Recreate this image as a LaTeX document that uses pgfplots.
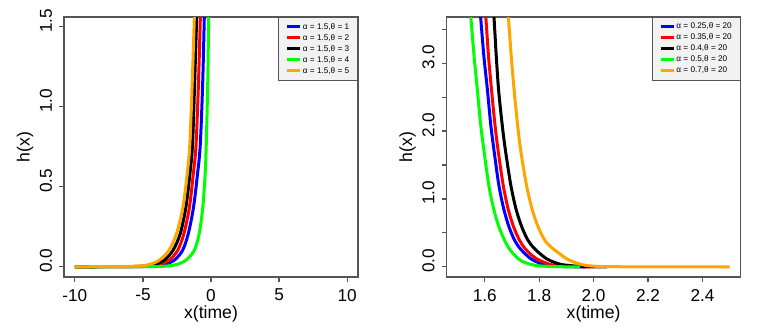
\documentclass[border=0pt]{standalone}
\usepackage{fontspec}
\setmainfont{Liberation Sans}
\usepackage{pgfplots}
\pgfplotsset{compat=1.18}

\definecolor{rorange}{HTML}{FFA500}
\definecolor{rgreen}{HTML}{00FF00}
\definecolor{frame}{HTML}{555555}

% R base-graphics look: box, outward ticks left/bottom, rotated y labels
\pgfplotsset{
  rplot/.style={
    scale only axis,
    width=147pt, height=130pt,
    axis line style={draw=frame, line width=0.6pt},
    tick style={draw=frame, line width=0.6pt},
    tick align=outside,
    major tick length=2.5pt,
    xtick pos=bottom, ytick pos=left,
    minor tick num=0,
    tick label style={font=\fontsize{8.6}{10}\selectfont},
    yticklabel style={rotate=90, anchor=south, xshift=3pt},
    every axis x label/.style={at={(axis description cs:0.5,0)}, anchor=center, yshift=-18.5pt, font=\fontsize{8.8}{10}\selectfont},
    every axis y label/.style={at={(axis description cs:0,0.5)}, anchor=center, xshift=-19.5pt, rotate=90, font=\fontsize{8.8}{10}\selectfont},
    xlabel={x(time)}, ylabel={h(x)},
    legend cell align=left,
    legend style={at={(1,1)}, anchor=north east,
      font=\fontsize{4.1}{5}\selectfont,
      fill=black!5, draw=frame, line width=0.4pt,
      inner xsep=3.5pt, inner ysep=2pt, row sep=0pt,
      nodes={inner sep=0.7pt, text height=3.1pt, text depth=1pt}},
    legend image code/.code={\draw[#1] (0pt,0pt) -- (6.5pt,0pt);},
  },
  rline/.style={#1, line width=1.5pt, smooth, tension=0.5, mark=none},
}

\begin{document}
\begin{tikzpicture}
\path[use as bounding box] (0,0) rectangle (384pt,167pt);

% left panel: alpha fixed, theta varies
\begin{axis}[rplot, at={(32pt,28.5pt)}, anchor=south west,
  xmin=-10.8, xmax=10.8, ymin=-0.064, ymax=1.561,
  xtick={-10,-5,0,5,10}, xticklabels={-10,-5,0,5,10},
  ytick={0,0.5,1,1.5}, yticklabels={0.0,0.5,1.0,1.5}]
\addplot[rline=blue] coordinates {(-10,0) (-6,0.0003) (-5.2,0.001) (-4.2,0.004) (-3.4,0.015) (-2.68,0.042) (-2.08,0.104) (-1.66,0.21) (-1.28,0.375) (-0.99,0.58) (-0.79,0.76) (-0.61,1.15) (-0.49,1.57) (-0.46,1.75)};
\addplot[rline=red] coordinates {(-10,0) (-6.3,0.0003) (-5.5,0.001) (-4.6,0.004) (-3.8,0.015) (-3.05,0.042) (-2.44,0.104) (-1.98,0.21) (-1.58,0.375) (-1.3,0.58) (-1.1,0.76) (-0.92,1.15) (-0.78,1.57) (-0.75,1.75)};
\addplot[rline=black] coordinates {(-10,0) (-6.8,0.0003) (-6,0.001) (-5,0.004) (-4.1,0.015) (-3.42,0.042) (-2.78,0.104) (-2.25,0.21) (-1.84,0.375) (-1.55,0.58) (-1.36,0.76) (-1.2,1.15) (-1.05,1.57) (-1.01,1.75)};
\addplot[rline=rgreen] coordinates {(-10,0) (-5,0.0003) (-4.2,0.001) (-3.3,0.004) (-2.5,0.015) (-1.83,0.042) (-1.22,0.104) (-0.86,0.21) (-0.6,0.375) (-0.43,0.58) (-0.35,0.76) (-0.24,1.15) (-0.17,1.57) (-0.15,1.75)};
\addplot[rline=rorange] coordinates {(-10,0) (-7.5,0.0003) (-6.5,0.001) (-5.3,0.005) (-4.5,0.015) (-3.78,0.042) (-3.08,0.104) (-2.52,0.21) (-2.06,0.375) (-1.75,0.58) (-1.56,0.76) (-1.38,1.15) (-1.22,1.57) (-1.18,1.75)};
\legend{α = 1.5{,}θ = 1, α = 1.5{,}θ = 2, α = 1.5{,}θ = 3, α = 1.5{,}θ = 4, α = 1.5{,}θ = 5}
\end{axis}

% right panel: theta fixed, alpha varies
\begin{axis}[rplot, at={(223.3pt,28.5pt)}, anchor=south west,
  xmin=1.46, xmax=2.54, ymin=-0.15, ymax=3.68,
  xtick={1.6,1.8,2.0,2.2,2.4}, xticklabels={1.6,1.8,2.0,2.2,2.4},
  ytick={0,0.5,1,1.5,2,2.5,3,3.5}, yticklabels={0.0,,1.0,,2.0,,3.0,}]
\addplot[rline=blue] coordinates {(1.576,4.10) (1.585,3.68) (1.597,3.1) (1.610,2.606) (1.622,2.1) (1.634,1.72) (1.652,1.2) (1.671,0.836) (1.690,0.58) (1.710,0.39) (1.728,0.28) (1.747,0.197) (1.769,0.12) (1.790,0.074) (1.815,0.035) (1.840,0.015) (1.88,0.005) (1.93,0.001) (1.97,0)};
\addplot[rline=red] coordinates {(1.595,4.10) (1.604,3.68) (1.614,3.1) (1.625,2.606) (1.6375,2.1) (1.649,1.72) (1.668,1.2) (1.687,0.836) (1.707,0.58) (1.728,0.39) (1.746,0.28) (1.765,0.197) (1.790,0.12) (1.814,0.074) (1.84,0.035) (1.87,0.015) (1.91,0.005) (1.96,0.001) (2.00,0)};
\addplot[rline=black] coordinates {(1.626,4.10) (1.634,3.68) (1.6425,3.1) (1.651,2.606) (1.664,2.1) (1.676,1.72) (1.696,1.2) (1.716,0.836) (1.737,0.58) (1.759,0.39) (1.780,0.28) (1.802,0.197) (1.827,0.12) (1.851,0.074) (1.88,0.035) (1.91,0.02) (1.95,0.006) (2.0,0.001) (2.05,0)};
\addplot[rline=rgreen] coordinates {(1.540,4.10) (1.549,3.68) (1.561,3.1) (1.573,2.606) (1.585,2.1) (1.597,1.72) (1.615,1.2) (1.634,0.836) (1.653,0.58) (1.673,0.39) (1.688,0.28) (1.704,0.197) (1.723,0.12) (1.741,0.074) (1.77,0.035) (1.80,0.015) (1.84,0.005) (1.89,0.001) (1.95,0)};
\addplot[rline=rorange] coordinates {(1.679,4.10) (1.687,3.68) (1.6975,3.1) (1.708,2.606) (1.7205,2.1) (1.732,1.72) (1.7536,1.2) (1.775,0.836) (1.797,0.58) (1.821,0.39) (1.847,0.28) (1.874,0.197) (1.900,0.12) (1.925,0.074) (1.95,0.04) (1.974,0.02) (2.01,0.007) (2.06,0.002) (2.15,0.0005) (2.25,0) (2.5,0)};
\legend{α = 0.25{,}θ = 20, α = 0.35{,}θ = 20, α = 0.4{,}θ = 20, α = 0.5{,}θ = 20, α = 0.7{,}θ = 20}
\end{axis}
\end{tikzpicture}
\end{document}
